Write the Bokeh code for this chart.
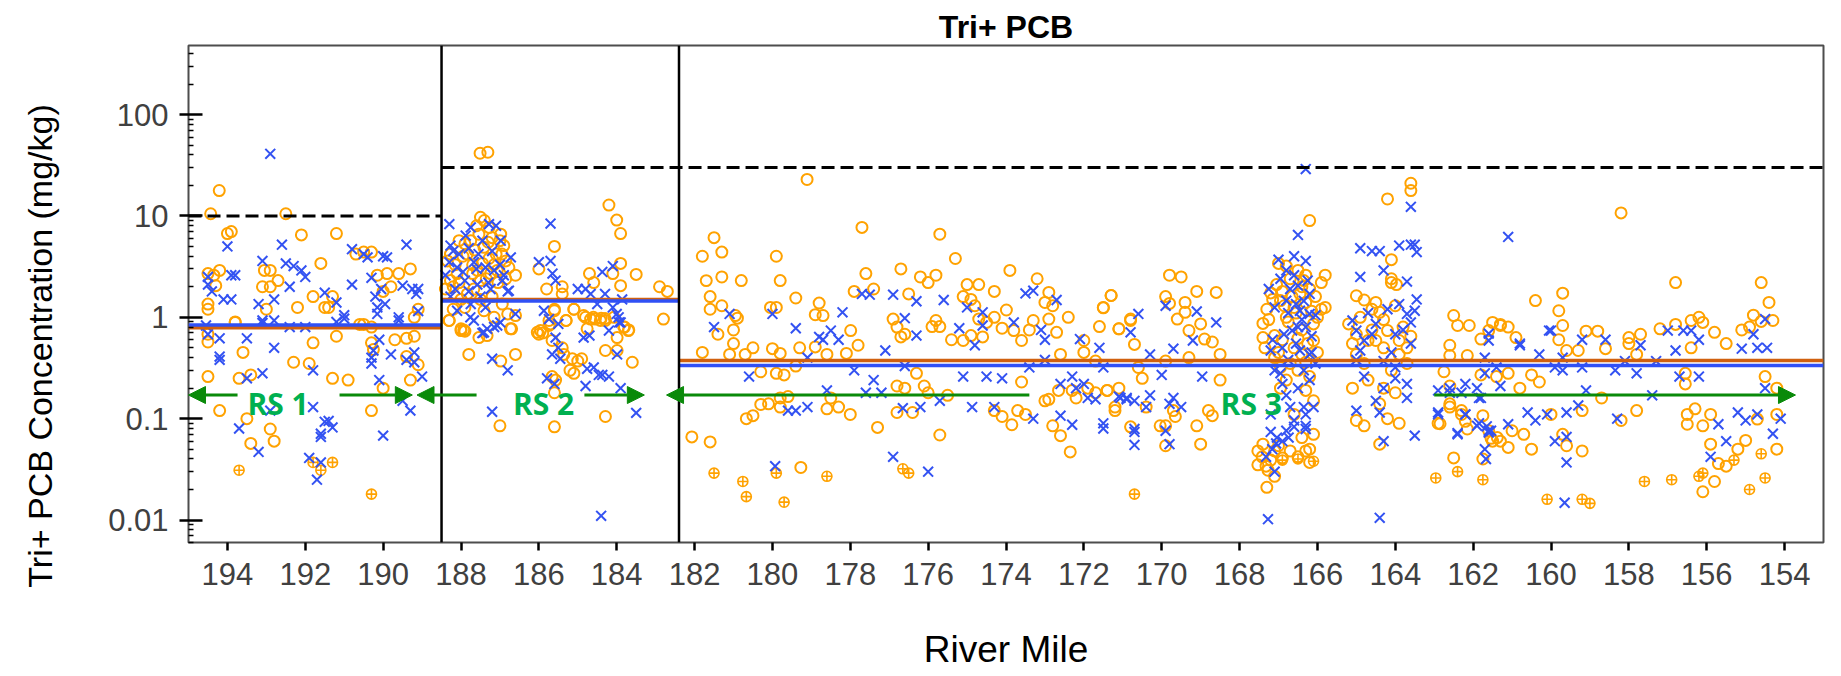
from bokeh.plotting import figure
from bokeh.models import Span, Arrow, NormalHead, Label, FixedTicker, CustomJSTickFormatter
from bokeh.embed import file_html
from bokeh.resources import INLINE

# ---------------- data (river mile, Tri+ PCB mg/kg) ----------------
orange_rs1 = [
    (194.43,10.5),(194.21,17.8),(192.5,10.5),(194.0,6.7),(193.9,7.0),(192.1,6.5),(191.2,6.7),(191.6,3.4),
    (194.5,2.7),(194.35,2.6),(194.2,2.9),(194.3,2.05),(194.5,1.35),(194.5,1.2),(193.8,0.9),
    (193.05,2.9),(192.9,2.9),(193.1,2.0),(192.9,2.0),(192.7,2.3),(193.0,1.2),(192.2,1.25),(191.8,1.6),
    (191.5,1.25),(191.4,1.25),(191.3,1.6),(190.7,4.2),(190.5,4.4),(190.3,4.4),(190.15,2.6),(189.9,2.7),
    (189.8,2.0),(190.0,1.8),(189.6,2.7),(189.3,3.0),(189.1,1.2),(189.2,1.0),(190.5,0.85),(190.3,0.8),
    (194.5,0.57),(194.5,0.68),(193.6,0.45),(194.5,0.26),(193.7,0.25),(193.4,0.27),(194.2,0.12),(193.5,0.1),
    (192.9,0.079),(193.4,0.057),(192.8,0.06),(192.3,0.36),(191.9,0.35),(191.8,0.56),(191.2,0.65),
    (191.3,0.25),(190.9,0.24),(190.3,0.12),(190.0,0.2),(190.3,0.56),(190.25,0.48),(189.7,0.6),(189.4,0.62),
    (189.2,0.65),(189.4,0.41),(189.1,0.34),(189.3,0.24),(193.8,0.89),(190.6,0.85),
]
blue_rs1 = [
    (192.9,41),(194.0,5.0),(192.6,5.2),(193.1,3.6),(192.5,3.4),(192.3,3.2),(192.1,2.9),(192.0,2.5),
    (194.5,2.5),(194.5,2.1),(194.4,1.8),(193.9,2.6),(193.8,2.6),(194.1,1.5),(193.9,1.5),(193.2,1.35),
    (192.8,1.5),(192.4,2.0),(191.5,1.75),(191.2,1.4),(191.0,1.05),(190.8,2.1),(190.8,4.7),(190.5,4.2),
    (190.4,3.9),(190.0,4.0),(189.9,3.9),(189.4,5.2),(190.3,2.45),(190.05,1.9),(189.95,1.35),(190.2,1.6),
    (190.15,1.25),(190.15,1.08),(189.5,2.05),(189.25,1.9),(189.1,1.9),(189.15,1.7),(189.1,1.15),(189.6,1.0),
    (193.1,0.93),(194.55,0.83),(194.5,0.68),(194.2,0.62),(194.2,0.38),(194.2,0.41),(193.5,0.62),(192.8,0.5),
    (193.1,0.28),(193.5,0.25),(192.9,0.12),(193.7,0.08),(193.2,0.047),(191.8,0.3),(191.8,0.13),(191.5,0.093),
    (191.4,0.095),(191.3,0.082),(191.6,0.071),(191.6,0.066),(191.9,0.041),(191.6,0.037),(191.7,0.025),
    (190.3,0.4),(190.25,0.47),(190.1,0.6),(189.8,0.43),(190.3,0.35),(190.1,0.24),(190.0,0.068),(189.4,0.38),
    (189.2,0.45),(189.2,0.36),(189.0,0.26),(189.5,0.15),(189.3,0.12),(193.1,0.88),(192.8,0.93),(191.0,0.97),
    (191.2,0.9),(189.6,0.93),(192.4,0.8),(192.0,0.8),
]
nd_rs1 = [(193.7,0.031),(191.8,0.037),(191.6,0.031),(191.3,0.037),(190.3,0.018)]

orange_rs2 = [
    (187.51,41.5),(187.31,42.5),(184.2,12.8),(184.0,9.1),(183.9,6.7),(185.6,5.0),(187.5,9.7),(187.4,9.0),
    (186.0,3.0),(185.8,1.9),(185.4,2.0),(184.7,2.7),(183.9,3.4),(184.1,2.7),(183.5,2.65),(182.9,2.0),
    (182.7,1.8),(182.8,0.96),(185.1,1.2),(184.8,1.0),(184.6,1.0),(184.4,0.98),(184.3,0.97),(186.0,0.68),
    (185.9,0.7),(185.7,0.86),(185.6,1.16),(185.3,0.93),(186.7,0.77),(186.8,1.08),(186.6,2.6),(188.3,0.93),
    (188.0,0.74),(187.9,0.73),(183.8,0.8),(183.7,0.74),
    (188.35,3.6),(188.27,2.3),(188.1,2.7),(187.9,5.3),(187.84,4.2),(187.75,5.7),(187.6,8.0),(187.54,6.6),
    (187.41,4.9),(187.28,7.7),(187.2,6.1),(187.1,4.2),(187.0,5.7),(186.98,6.6),(186.9,5.1),(186.85,3.6),
    (186.77,3.1),(187.07,2.9),(187.24,2.7),(187.5,2.3),(187.67,1.9),(187.84,1.7),(188.0,1.5),(188.2,2.0),
    (187.9,1.25),(187.41,1.16),(187.15,1.0),(186.94,1.35),(188.27,4.2),(188.05,5.7),(187.28,3.8),(187.58,2.9),
    (188.4,1.9),(188.15,3.3),(188.05,2.2),(187.95,4.0),(187.7,3.3),(187.65,4.6),(187.45,3.4),(187.35,2.4),
    (187.3,5.5),(187.15,3.3),(187.05,2.2),(186.95,4.2),(186.85,2.4),(187.7,2.7),(187.5,1.5),(187.2,1.6),
    (188.2,1.2),
    (188.31,0.93),(188.0,0.77),(187.93,0.75),(187.54,0.63),(187.33,0.66),(186.73,0.77),(186.6,1.04),
    (187.8,0.43),(186.98,0.37),(186.6,0.43),(186.04,0.71),(185.96,0.74),(185.74,0.83),(185.4,1.7),
    (185.6,1.2),(185.74,0.93),(185.3,0.93),(185.66,0.59),(185.4,0.5),(185.36,0.43),(185.14,0.39),
    (185.0,0.37),(184.9,0.39),(185.2,0.3),(185.1,0.28),(185.57,0.24),(185.66,0.26),(185.6,0.18),
    (185.1,1.2),(184.85,1.04),(184.67,0.96),(184.55,0.96),(184.42,0.93),(184.29,0.93),(184.76,0.77),
    (184.59,2.2),(183.9,2.05),(184.07,1.0),(183.99,0.63),(183.82,0.8),(183.69,0.75),(184.29,0.47),
    (183.99,0.47),(183.6,0.36),(184.29,0.105),(185.6,0.083),(187.0,0.085),
]
blue_rs2 = [
    (188.3,8.3),(187.75,7.7),(187.28,8.3),(187.1,8.0),(188.27,5.1),(188.2,4.5),(187.88,6.4),(187.45,5.7),
    (186.98,5.7),(186.72,3.9),(188.3,3.5),(188.1,3.1),(187.67,3.5),(187.37,3.1),(187.15,2.9),(187.9,2.3),
    (187.58,2.1),(187.24,1.9),(186.94,2.3),(186.8,1.8),(188.27,1.6),(187.75,1.35),(187.37,1.25),(186.6,1.08),
    (187.67,0.93),(187.15,0.8),(187.45,0.7),(185.7,8.4),(186.0,3.5),(185.7,3.6),(185.65,2.7),(185.57,2.3),
    (185.87,1.16),(185.5,0.86),(185.0,1.9),(184.8,1.9),(184.67,1.7),(184.37,2.8),(184.1,3.2),(184.3,1.7),
    (184.1,1.25),(184.0,1.08),(183.86,1.5),(183.94,0.89),(184.5,1.35),(184.7,0.66),(188.1,1.16),(187.76,1.0),
    (187.33,0.77),(187.41,0.71),(187.07,0.83),(186.99,0.89),(186.77,1.83),(187.2,0.39),(186.8,0.3),
    (188.4,2.6),(188.05,4.2),(187.95,2.8),(187.8,4.8),(187.6,3.0),(187.55,4.2),(187.3,2.2),(187.2,4.5),
    (187.0,3.3),(186.9,2.6),(187.8,1.8),(188.15,1.9),(187.5,1.6),
    (185.74,0.96),(185.57,0.63),(185.5,0.5),(185.66,0.43),(185.45,0.39),(185.79,0.25),(185.6,0.22),
    (184.85,0.63),(184.76,0.31),(184.59,0.32),(184.46,0.27),(184.37,0.27),(184.2,0.26),(183.99,0.43),
    (183.95,1.0),(183.9,0.89),(183.9,0.2),(184.8,0.21),(184.2,0.74),(187.2,0.117),(183.5,0.114),(184.4,0.011),
]

orange_rs3 = [
    (179.11,22.9),(177.7,7.7),(175.7,6.6),(175.3,3.8),(181.5,6.1),(181.8,4.0),(181.3,4.4),(181.7,2.3),
    (181.3,2.5),(180.8,2.3),(181.6,1.6),(181.6,1.2),(181.3,1.3),(180.95,1.04),(180.9,0.98),(181.4,0.68),
    (181.0,0.75),(181.0,0.55),(181.8,0.45),(181.1,0.43),(180.7,0.43),(180.5,0.5),(179.9,4.0),(179.8,2.3),
    (180.05,1.25),(179.9,1.25),(179.4,1.55),(180.0,0.49),(179.8,0.44),(179.3,0.5),(178.9,0.51),(178.6,0.43),
    (180.3,0.29),(179.9,0.28),(179.7,0.27),(179.4,0.33),(178.8,1.38),(178.9,1.06),(178.7,1.04),(177.99,0.74),
    (178.1,0.44),(177.8,0.53),(177.9,1.8),(177.6,2.7),(177.4,1.9),(176.7,3.0),(176.8,0.8),(176.9,0.96),
    (176.7,0.64),(176.6,0.68),(176.2,2.5),(176.0,2.2),(175.8,2.6),(175.9,0.81),(175.7,0.81),(175.8,0.93),
    (176.5,1.7),(176.3,0.28),(176.1,0.21),(176.8,0.21),(175.4,0.6),(175.1,0.59),(174.9,0.66),(174.6,0.64),
    (175.0,2.1),(174.7,2.1),(175.1,1.6),(174.9,1.5),(174.8,1.3),(174.7,0.96),(174.5,0.89),(174.3,1.0),
    (174.3,1.8),(173.99,1.18),(174.1,0.78),(173.9,2.9),(173.8,0.74),(173.6,0.59),(173.4,0.75),(173.2,2.4),
    (172.9,1.76),(172.7,0.71),(172.4,1.0),(172.9,0.96),(173.3,0.93),(173.0,1.4),(172.8,1.3),(173.6,0.23),
    (173.7,0.12),(173.5,0.11),(172.3,0.19),(172.2,0.16),(171.7,0.18),(171.4,0.19),(172.0,0.59),(171.5,1.24),
    (171.6,0.81),(171.3,1.64),(171.1,0.77),(170.8,0.93),(172.6,0.43),(172.0,0.45),(171.7,0.37),(180.5,0.107),
    (180.1,0.14),(179.6,0.165),(178.3,0.13),(178.0,0.11),(176.4,0.115),(175.5,0.17),
    (182.07,0.066),(181.6,0.059),(180.67,0.10),(180.3,0.138),(179.8,0.16),(179.8,0.13),(179.27,0.033),
    (178.6,0.125),(178.5,0.16),(177.3,0.082),(176.8,0.115),(176.6,0.2),(176.0,0.18),(175.7,0.069),
    (174.3,0.12),(174.1,0.105),(173.85,0.087),(173.0,0.15),(172.9,0.155),(172.8,0.085),(172.6,0.068),
    (172.35,0.047),(171.2,0.13),(171.2,0.12),(170.8,0.083),(170.04,0.085),(169.9,0.054),(169.7,0.12),
    (169.65,0.105),(171.9,0.2),(172.65,0.19),
    (166.2,9.0),(163.6,21),(163.6,17.8),(164.2,14.7),(164.1,3.7),(164.1,2.4),(164.1,2.2),(163.97,2.1),
    (167.2,1.74),(167.0,3.4),(166.8,3.2),(166.5,2.9),(166.35,2.3),(166.4,2.0),(166.95,1.46),(167.4,0.87),
    (167.4,0.63),(167.1,0.66),(166.8,1.0),(166.6,1.25),(166.3,1.4),(166.1,0.86),(166.1,0.59),(165.9,2.2),
    (165.8,2.6),(165.8,1.25),(165.9,1.2),(167.1,0.4),(166.95,0.32),(166.8,0.24),(166.5,0.3),(166.3,0.19),
    (166.1,0.15),(166.1,0.07),(166.4,0.065),(166.6,0.11),(166.95,0.2),(166.2,0.26),(166.4,0.43),
    (167.3,1.2),(167.25,0.95),(167.15,1.5),(167.05,2.1),(166.9,1.8),(166.85,1.3),(166.75,0.9),(166.7,2.4),
    (166.65,1.6),(166.55,1.1),(166.45,1.7),(166.4,0.75),(166.3,2.6),(166.25,0.55),(166.2,1.9),(166.15,1.15),
    (166.05,1.6),(166.0,1.0),(166.9,0.6),(166.6,0.5),(166.3,0.36),(167.0,0.45),(166.7,0.35),(166.5,0.62),
    (167.35,0.5),(166.0,0.45),
    (165.0,1.63),(164.8,1.48),(164.5,1.4),(164.4,1.12),(165.0,0.68),(165.2,0.86),(164.7,0.59),(164.5,0.59),
    (164.2,0.74),(163.9,0.59),(163.7,0.5),(163.9,0.43),(165.0,0.43),(165.1,0.2),(164.7,0.24),(164.3,0.2),
    (164.0,0.18),(164.4,0.14),(164.2,0.1),(163.9,0.09),(164.8,0.085),(165.0,0.096),(164.4,0.056),
    (164.9,1.0),(164.6,1.2),(164.3,0.95),(164.0,1.3),(163.8,0.8),(164.6,0.75),(165.1,0.55),(164.3,0.5),
    (163.6,0.65),(164.8,0.35),(164.1,0.3),(163.7,0.35),
    (162.6,0.42),(162.6,0.21),
    (171.5,1.25),(171.3,1.64),(171.1,0.77),(170.8,0.96),(170.7,0.54),(169.9,1.6),(169.8,2.6),(169.5,2.5),
    (169.8,1.37),(169.6,0.96),(169.4,1.4),(169.4,1.12),(169.1,1.8),(169.3,0.74),(169.0,0.86),(168.9,0.61),
    (168.7,0.57),(168.6,1.76),(168.5,0.43),(168.5,0.24),(169.3,0.4),(169.9,0.37),(170.6,0.32),(170.5,0.25),
    (171.1,0.2),(171.4,0.19),(170.4,0.13),(169.1,0.085),(168.8,0.12),(168.7,0.107),(169.9,0.085),(169.0,0.056),
    (162.6,0.53),(162.5,1.04),(162.4,0.83),(162.1,0.83),(161.8,0.61),(161.6,0.74),(161.5,0.89),(161.3,0.83),
    (162.15,0.42),(161.8,0.27),(161.4,0.26),(162.9,0.09),(162.6,0.13),(162.3,0.11),(162.15,0.079),
    (161.6,0.076),(161.5,0.06),(160.7,0.07),
    (167.53,0.048),(167.42,0.042),(167.53,0.035),(167.32,0.034),(167.2,0.039),(167.1,0.048),(167.27,0.031),
    (167.1,0.027),(166.9,0.041),(166.7,0.048),(166.5,0.042),(166.3,0.048),(166.2,0.037),(167.3,0.021),
    (167.4,0.056),(167.0,0.054),(166.2,0.05),
    (162.75,0.29),(162.85,0.089),(162.5,0.041),(162.6,0.14),(162.3,0.12),(162.2,0.094),(161.75,0.107),
    (161.54,0.064),(161.38,0.065),(161.75,0.04),
    (158.2,10.7),(156.8,2.2),(154.6,2.2),(154.4,1.4),(160.4,1.46),(159.7,1.73),(159.8,1.16),(159.7,0.83),
    (161.1,0.8),(160.9,0.63),(161.3,0.85),(159.8,0.6),(159.6,0.47),(159.3,0.47),(159.1,0.73),(158.8,0.73),
    (158.6,0.49),(158.0,0.63),(157.7,0.68),(158.0,0.55),(157.8,0.43),(157.2,0.77),(156.8,0.85),(156.4,0.93),
    (156.2,1.0),(156.1,0.89),(155.8,0.71),(155.5,0.55),(155.1,0.75),(154.9,0.8),(154.8,1.05),(154.6,0.91),
    (154.3,0.93),(156.4,0.5),(156.55,0.28),(156.55,0.22),(161.1,0.28),(160.5,0.27),(160.3,0.23),(160.8,0.2),
    (158.7,0.16),(157.8,0.12),(158.2,0.096),(160.0,0.11),(159.6,0.054),(159.2,0.048),(159.7,0.07),
    (159.2,0.12),(161.1,0.052),(160.5,0.05),(161.0,0.076),(161.3,0.06),(156.5,0.11),(156.3,0.125),
    (156.5,0.088),(156.1,0.085),(155.9,0.11),(155.9,0.056),(155.7,0.036),(155.5,0.034),(155.8,0.024),
    (156.1,0.019),(155.2,0.05),(155.0,0.061),(154.2,0.05),(154.7,0.099),(154.2,0.11),(154.2,0.2),(154.5,0.26),
]
nd_rs3 = [
    (181.5,0.029),(180.76,0.024),(180.67,0.017),(179.9,0.029),(179.7,0.015),(178.6,0.027),(176.65,0.032),
    (176.5,0.029),(170.7,0.018),(166.5,0.04),(166.1,0.038),(166.9,0.039),(162.96,0.026),(162.4,0.03),
    (161.75,0.025),(160.1,0.016),(159.2,0.016),(159.0,0.0146),(157.6,0.024),(156.9,0.025),(156.2,0.027),
    (156.1,0.029),(155.3,0.039),(154.6,0.045),(154.9,0.02),(154.5,0.026),
]
blue_rs3 = [
    (181.5,0.8),(181.1,1.08),(180.6,0.26),(180.0,1.08),(179.4,0.78),(179.1,0.4),(178.8,0.64),(178.7,0.6),
    (178.5,0.74),(178.3,0.6),(178.2,1.12),(177.9,0.3),(177.4,0.24),(177.2,0.18),(177.1,0.47),(177.7,1.7),
    (177.5,1.67),(176.9,1.67),(176.6,0.98),(176.3,1.44),(176.3,0.66),(176.6,0.33),(176.2,0.13),(175.7,0.15),
    (175.6,1.48),(175.2,0.78),(175.0,1.25),(174.6,1.12),(174.6,0.83),(174.8,0.53),(175.1,0.26),(174.5,0.26),
    (174.1,0.25),(174.3,0.13),(173.8,0.89),(173.5,1.72),(173.3,1.83),(172.7,1.48),(173.1,0.75),(173.0,0.6),
    (173.4,0.32),(173.0,0.38),(172.6,0.22),(172.3,0.26),(172.0,0.22),(172.2,0.2),(172.6,0.107),(172.1,0.61),
    (171.6,0.5),(171.5,0.32),(171.1,0.165),(170.9,0.16),(179.6,0.12),(179.4,0.12),(179.1,0.13),(178.6,0.19),
    (179.93,0.034),(177.6,0.18),(176.9,0.042),(176.0,0.03),(176.65,0.127),(174.87,0.13),(173.3,0.1),
    (172.3,0.087),(171.5,0.08),(171.9,0.16),(171.7,0.155),(170.7,0.15),(170.4,0.13),(170.7,0.074),
    (170.7,0.055),
    (166.3,29),(166.5,6.5),(163.6,12.3),(161.1,6.2),(164.9,4.8),(164.6,4.5),(164.4,4.5),(163.9,5.1),
    (163.6,5.2),(163.5,5.2),(163.45,4.4),(164.9,2.5),(164.3,2.9),(163.7,2.25),(163.45,1.5),
    (167.0,3.7),(166.6,4.0),(166.3,3.6),(166.8,2.9),(166.5,2.05),(166.2,1.7),(166.8,1.46),(166.45,1.16),
    (166.2,1.08),(166.65,0.74),(166.5,0.8),(166.86,0.68),(166.3,0.8),(166.9,0.5),(166.45,0.47),(166.2,0.43),
    (167.2,0.47),(167.1,0.3),(166.95,0.28),(166.35,0.3),(166.2,0.24),(166.8,0.17),(166.35,0.13),(166.1,0.13),
    (166.6,0.096),(166.3,0.085),(166.8,0.076),(167.04,0.065),(167.2,0.11),
    (167.25,1.9),(167.1,1.25),(166.95,2.4),(166.75,1.1),(166.7,1.9),(166.6,2.6),(166.55,1.35),(166.4,0.95),
    (166.35,1.45),(166.25,2.3),(166.15,0.65),(166.05,1.05),(167.15,0.6),(166.75,0.38),(166.55,0.55),
    (166.05,0.35),(166.9,0.22),(166.5,0.2),(166.15,0.45),(166.7,0.13),
    (165.1,0.93),(165.0,0.74),(164.8,0.59),(164.5,0.86),(164.0,0.68),(163.9,1.35),(163.7,1.08),(163.6,0.89),
    (163.5,1.16),(164.9,0.47),(164.3,0.37),(164.0,0.32),(164.8,0.26),(164.3,0.2),(163.7,0.22),(165.0,0.12),
    (164.4,0.115),(163.7,0.16),(163.5,0.068),(164.3,0.06),
    (164.7,1.1),(164.2,1.2),(163.8,0.75),(164.6,0.68),(165.0,0.38),(164.1,0.45),(163.6,0.55),(164.5,0.15),
    (164.0,0.25),
    (170.6,1.08),(170.8,0.71),(170.3,0.43),(169.9,1.3),(169.7,0.49),(169.2,0.59),(169.1,1.14),(168.6,0.89),
    (168.96,0.26),(170.0,0.27),(171.06,0.16),(170.9,0.155),(170.3,0.17),(169.8,0.14),(169.5,0.13),
    (169.7,0.16),(171.5,0.09),(170.7,0.079),(169.9,0.076),(169.8,0.056),
    (162.9,0.19),(162.6,0.2),(162.2,0.22),(161.9,0.2),(161.6,0.59),(161.6,0.69),(161.7,0.4),(161.7,0.28),
    (161.4,0.32),(161.3,0.21),(160.8,0.53),(160.3,0.43),(160.05,0.74),(162.9,0.115),(162.4,0.07),
    (162.2,0.11),(161.9,0.085),(161.6,0.076),(161.1,0.088),(160.6,0.115),(160.4,0.096),(160.1,0.11),
    (161.8,0.16),(161.6,0.073),
    (167.32,0.042),(167.16,0.05),(167.06,0.057),(166.9,0.06),(166.74,0.065),(167.1,0.03),(167.2,0.074),
    (166.6,0.083),(166.3,0.079),(166.3,0.11),(167.27,0.0102),(164.4,0.0105),
    (162.9,0.11),(162.6,0.18),(162.3,0.18),(162.2,0.11),(162.4,0.072),(161.85,0.16),(161.85,0.09),
    (161.65,0.084),(161.54,0.076),(161.7,0.05),(161.67,0.04),
    (160.8,0.55),(160.0,0.74),(159.7,0.4),(159.2,0.6),(158.6,0.6),(158.1,0.37),(157.7,0.53),
    (157.3,0.37),(157.0,0.74),(156.8,0.47),(156.6,0.74),(156.4,0.74),(156.2,0.6),(155.1,0.49),(154.8,0.68),
    (154.5,0.96),(154.45,0.5),(154.7,0.5),(159.9,0.32),(159.7,0.3),(159.2,0.32),(159.1,0.19),(158.35,0.3),
    (157.8,0.28),(157.4,0.17),(156.7,0.26),(156.2,0.26),(154.5,0.2),(159.6,0.115),(159.3,0.135),
    (159.9,0.06),(159.6,0.066),(159.6,0.037),(159.65,0.0148),(158.3,0.1),(155.7,0.088),(155.5,0.06),
    (155.9,0.042),(155.2,0.115),(155.0,0.096),(154.7,0.11),(154.3,0.071),(154.1,0.1),
]

reach_bounds = [195.0, 188.5, 182.4, 153.0]
reach_mean_orange = [0.79, 1.50, 0.375]
reach_mean_blue = [0.84, 1.45, 0.335]
threshold_x0 = [195.0, 188.5]
threshold_x1 = [188.5, 153.0]
threshold_val = [10, 30]
reach_names = ["RS 1", "RS 2", "RS 3"]
reach_label_x = [192.7, 185.88, 167.7]
arrow_tail_x = [193.74, 191.12, 187.6, 184.83, 173.4, 163.0]
arrow_tip_x = [195.0, 189.25, 189.13, 183.29, 182.72, 153.72]
arrow_y = 0.171
x_ticks = list(range(154, 196, 2))
y_ticks = [0.01, 0.1, 1, 10, 100]

ORANGE = "#FFA200"
BLUE = "#3352F2"
GREEN_ARROW = "#0A8A0A"
GREEN_TEXT = "#00B050"


def split(pts):
    return [a for a, _ in pts], [b for _, b in pts]


p = figure(frame_width=1635, frame_height=497, x_range=(195, 153), y_range=(0.006, 480),
           y_axis_type="log", output_backend="svg", toolbar_location=None,
           min_border_left=188, min_border_right=15, min_border_top=45, min_border_bottom=130,
           background_fill_color="white", border_fill_color="white")
p.xgrid.visible = False
p.ygrid.visible = False
p.outline_line_color = "#4d4d4d"
p.outline_line_width = 2

# title (kept fully visible at the top)
p.title.text = "Tri+ PCB"
p.title.align = "center"
p.title.text_font = "Liberation Sans"
p.title.text_font_style = "bold"
p.title.text_font_size = "32px"
p.title.text_color = "black"
p.title.standoff = 2

ox, oy = split(orange_rs1 + orange_rs2 + orange_rs3)
p.scatter(ox, oy, marker="circle", size=11, fill_color=None, line_color=ORANGE, line_width=2)
nx, ny = split(nd_rs1 + nd_rs3)
p.scatter(nx, ny, marker="circle_cross", size=10, fill_color=None, line_color=ORANGE, line_width=1.6)
bx, by = split(blue_rs1 + blue_rs2 + blue_rs3)
p.scatter(bx, by, marker="x", size=14, line_color=BLUE, line_width=2)

# reach means
p.segment(x0=reach_bounds[:-1], x1=reach_bounds[1:], y0=reach_mean_orange, y1=reach_mean_orange,
          line_color="#D0600F", line_width=3.5)
p.segment(x0=reach_bounds[:-1], x1=reach_bounds[1:], y0=reach_mean_blue, y1=reach_mean_blue,
          line_color="#3050F5", line_width=3.5)
# thresholds
p.segment(x0=threshold_x0, x1=threshold_x1, y0=threshold_val, y1=threshold_val,
          line_color="black", line_width=3, line_dash="13 6")
# reach boundaries
for b in reach_bounds[1:-1]:
    p.add_layout(Span(location=b, dimension="height", line_color="black", line_width=2.5))

# arrows and labels
for xs, xe in zip(arrow_tail_x, arrow_tip_x):
    p.add_layout(Arrow(x_start=xs, y_start=arrow_y, x_end=xe, y_end=arrow_y, line_color=GREEN_ARROW,
                       line_width=3, end=NormalHead(size=17, fill_color=GREEN_ARROW, line_color=GREEN_ARROW)))
for name, lx in zip(reach_names, reach_label_x):
    p.add_layout(Label(x=lx, y=0.14, text=name, text_font="Open Sans", text_font_style="bold",
                       text_font_size="30px", text_color=GREEN_TEXT, text_align="center",
                       text_baseline="middle"))

# axes
p.xaxis.ticker = FixedTicker(ticks=x_ticks)
p.yaxis.ticker = FixedTicker(ticks=y_ticks,
                             minor_ticks=[k * 10.0 ** e for e in range(-3, 3) for k in range(2, 10)])
p.yaxis.formatter = CustomJSTickFormatter(code="return tick >= 1 ? tick.toFixed(0) : String(tick);")
for ax in (p.xaxis[0], p.yaxis[0]):
    ax.axis_line_color = None
    ax.major_tick_line_color = "black"
    ax.major_tick_line_width = 2.5
    ax.major_label_text_font = "Liberation Sans"
    ax.major_label_text_font_size = "31px"
    ax.major_label_text_color = "#404040"
    ax.axis_label_text_font = "Liberation Sans"
    ax.axis_label_text_font_style = "normal"
    ax.axis_label_text_color = "black"
p.xaxis.major_tick_in = 0
p.xaxis.major_tick_out = 8
p.xaxis.minor_tick_line_color = None
p.xaxis.major_label_standoff = 12
p.xaxis.axis_label = "River Mile"
p.xaxis.axis_label_text_font_size = "37px"
p.xaxis.axis_label_standoff = 41
p.yaxis.major_tick_in = 14
p.yaxis.major_tick_out = 9
p.yaxis.minor_tick_in = 5
p.yaxis.minor_tick_out = 0
p.yaxis.minor_tick_line_color = "black"
p.yaxis.minor_tick_line_width = 1.5
p.yaxis.major_label_standoff = 11
# trailing no-break spaces shift the rotated label's visible text downward, as in the original
p.yaxis.axis_label = "Tri+ PCB Concentration (mg/kg)" + "\u00a0" * 11
p.yaxis.axis_label_text_font_size = "34px"
p.yaxis.axis_label_standoff = 46

open("out.html", "w").write(file_html(p, INLINE))
